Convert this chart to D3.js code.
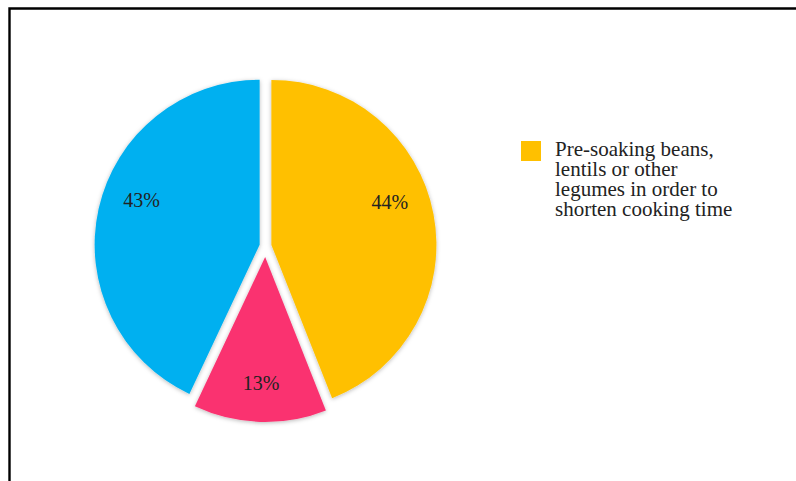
<!DOCTYPE html>
<html>
<head>
<meta charset="utf-8">
<script src="https://cdn.jsdelivr.net/npm/d3@7"></script>
<style>
  html, body { margin: 0; padding: 0; background: #fff; }
  svg { display: block; }
</style>
</head>
<body>
<svg id="chart" width="796" height="481"></svg>
<script>
// Share of respondents per answer (percent), in drawing order clockwise from 12 o'clock
const values = [44, 13, 43];
const sliceColors = ["#FFC000", "#FA3270", "#00B0F0"];
// Only the first answer appears in the legend
const legendLabels = ["Pre-soaking beans, lentils or other legumes in order to shorten cooking time"];
const legendLines = [["Pre-soaking beans,", "lentils or other", "legumes in order to", "shorten cooking time"]];

// Layout
const W = 796, H = 481;
const cx = 265.5, cy = 246, radius = 165;
const explode = [6, 11, 6];        // px each slice is pulled out from the centre
const labelRadius = 126;
const labelTurn = [-9, 0, 8];      // degrees, best-fit placement of the percentage labels

const svg = d3.select("#chart");

// soft grey halo around the slices
const defs = svg.append("defs");
const f = defs.append("filter").attr("id", "halo")
  .attr("x", "-10%").attr("y", "-10%").attr("width", "120%").attr("height", "120%");
f.append("feGaussianBlur").attr("in", "SourceAlpha").attr("stdDeviation", 2).attr("result", "b");
f.append("feOffset").attr("in", "b").attr("dx", 0).attr("dy", 1).attr("result", "o");
f.append("feFlood").attr("flood-color", "#000").attr("flood-opacity", 0.28).attr("result", "c");
f.append("feComposite").attr("in", "c").attr("in2", "o").attr("operator", "in").attr("result", "s");
const m = f.append("feMerge");
m.append("feMergeNode").attr("in", "s");
m.append("feMergeNode").attr("in", "SourceGraphic");

// chart frame (runs off the right and bottom edges)
svg.append("path")
  .attr("d", `M9.5,${H + 5} V8.5 H${W + 5}`)
  .attr("fill", "none")
  .attr("stroke", "#000")
  .attr("stroke-width", 2.4);

const pie = d3.pie().sort(null).value(d => d);
const arcs = pie(values);
const arc = d3.arc().innerRadius(0).outerRadius(radius);

const g = svg.append("g").attr("transform", `translate(${cx},${cy})`);

const slices = g.selectAll("g.slice")
  .data(arcs)
  .join("g")
  .attr("class", "slice")
  .attr("transform", (d, i) => {
    const a = (d.startAngle + d.endAngle) / 2;
    return `translate(${Math.sin(a) * explode[i]},${-Math.cos(a) * explode[i]})`;
  });

slices.append("path")
  .attr("d", arc)
  .attr("fill", (d, i) => sliceColors[i])
  .attr("filter", "url(#halo)");

slices.append("text")
  .attr("transform", (d, i) => {
    const a = (d.startAngle + d.endAngle) / 2 + labelTurn[i] * Math.PI / 180;
    return `translate(${Math.sin(a) * labelRadius},${-Math.cos(a) * labelRadius})`;
  })
  .attr("text-anchor", "middle")
  .attr("dy", "0.35em")
  .attr("font-family", "'Liberation Serif', 'Times New Roman', serif")
  .attr("font-size", 20)
  .attr("fill", "#222")
  .text(d => `${d.data}%`);

// legend
const legend = svg.append("g").attr("transform", "translate(521,141)");
legendLabels.forEach((lbl, i) => {
  const item = legend.append("g").attr("transform", `translate(0,${i * 90})`);
  item.append("rect")
    .attr("width", 20).attr("height", 20)
    .attr("fill", sliceColors[i]);
  const t = item.append("text")
    .attr("x", 34).attr("y", 15)
    .attr("font-family", "'Liberation Serif', 'Times New Roman', serif")
    .attr("font-size", 21)
    .attr("fill", "#222");
  legendLines[i].forEach((line, j) => {
    t.append("tspan").attr("x", 34).attr("dy", j === 0 ? 0 : 20).text(line);
  });
});
</script>
</body>
</html>
